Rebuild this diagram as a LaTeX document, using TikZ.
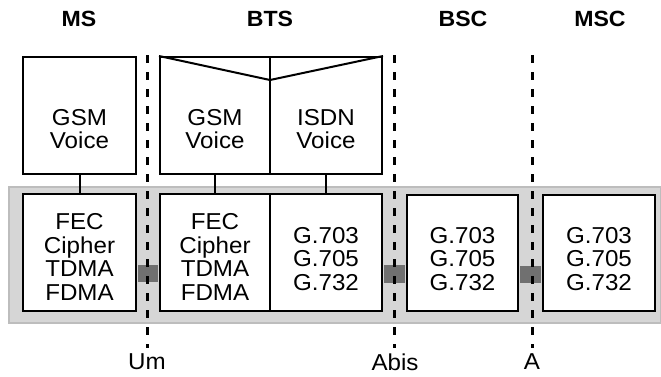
\documentclass[tikz,border=0pt]{standalone}
\usepackage{fontspec}
\setmainfont{Liberation Sans}[FakeStretch=1.05]
\newfontfamily\hdfont{Liberation Sans}[FakeStretch=1.05]
\usetikzlibrary{calc}
\definecolor{bandfill}{HTML}{D6D6D6}
\definecolor{bandline}{HTML}{BDBDBD}
\definecolor{barfill}{HTML}{707070}
\begin{document}
\begin{tikzpicture}[x=1pt,y=-1pt,
  box/.style={draw,line width=2pt,fill=white,inner sep=0pt},
  txt/.style={font=\fontsize{23}{23.5}\selectfont,align=center,inner sep=0pt},
  hdr/.style={font=\hdfont\bfseries\fontsize{22}{24}\selectfont,inner sep=0pt},
  lnk/.style={line width=2pt},
  iface/.style={line width=3pt,dash pattern=on 8pt off 9pt},
  bar/.style={fill=barfill}]
\useasboundingbox (0,0) rectangle (661,376);
% band
\node[draw=bandline,fill=bandfill,line width=1.5pt,inner sep=0pt,minimum width=652pt,minimum height=136pt] (band) at (335,255) {};
% boxes
\node[box,minimum width=113pt,minimum height=117pt] (msU) at (79.5,115.5) {};
\node[box,minimum width=113pt,minimum height=117pt] (msL) at (79.5,252.5) {};
\node[box,minimum width=110pt,minimum height=117pt] (btsGV) at (215,115.5) {};
\node[box,minimum width=112pt,minimum height=117pt] (btsIV) at (326,115.5) {};
\node[box,minimum width=110pt,minimum height=117pt] (btsL) at (215,252.5) {};
\node[box,minimum width=112pt,minimum height=117pt] (btsG) at (326,252.5) {};
\node[box,minimum width=111pt,minimum height=116pt] (bsc) at (462.5,253) {};
\node[box,minimum width=112pt,minimum height=116pt] (msc) at (599,253) {};
% V on top of BTS
\coordinate (vtip) at (270,80);
\draw[lnk,line join=miter] (btsGV.north west) -- (vtip) -- (btsIV.north east);
% vertical links
\draw[lnk] (msU.south) -- (msL.north);
\draw[lnk] (btsGV.south) -- (btsL.north);
\draw[lnk] (btsIV.south) -- (btsG.north);
% dark bars
\fill[bar] ($(msL.east)+(1,12.5)$) rectangle ($(btsL.west)+(-1,29.5)$);
\fill[bar] ($(btsG.east)+(1,12.5)$) rectangle ($(bsc.west)+(-1,29.5)$);
\fill[bar] ($(bsc.east)+(1,12.5)$) rectangle ($(msc.west)+(-1,29.5)$);
% interfaces
\coordinate (umT) at (147,55); \coordinate (umB) at (147,348);
\coordinate (abT) at (394,55); \coordinate (abB) at (394,348);
\coordinate (aT) at (532,55); \coordinate (aB) at (532,348);
\draw[iface] (umT) -- (umB);
\draw[iface] (abT) -- (abB);
\draw[iface] (aT) -- (aB);
% texts
\node[txt] (t1) at (79.5,129) {GSM\\Voice};
\node[txt] (t2) at (215,129) {GSM\\Voice};
\node[txt] (t3) at (326,129) {ISDN\\Voice};
\node[txt] (t4) at (79.5,257) {FEC\\Cipher\\TDMA\\FDMA};
\node[txt] (t5) at (215,257) {FEC\\Cipher\\TDMA\\FDMA};
\node[txt] (t6) at (326,259) {G.703\\G.705\\G.732};
\node[txt] (t7) at (462.5,259) {G.703\\G.705\\G.732};
\node[txt] (t8) at (599,259) {G.703\\G.705\\G.732};
% headers
\node[hdr] (hMS) at (79,19) {MS};
\node[hdr] (hBTS) at (270,19) {BTS};
\node[hdr] (hBSC) at (463,19) {BSC};
\node[hdr] (hMSC) at (600,19) {MSC};
% interface labels
\node[txt] (lUm) at (147,362) {Um};
\node[txt] (lAbis) at (395,362) {Abis};
\node[txt] (lA) at (532,362) {A};
\end{tikzpicture}
\end{document}
